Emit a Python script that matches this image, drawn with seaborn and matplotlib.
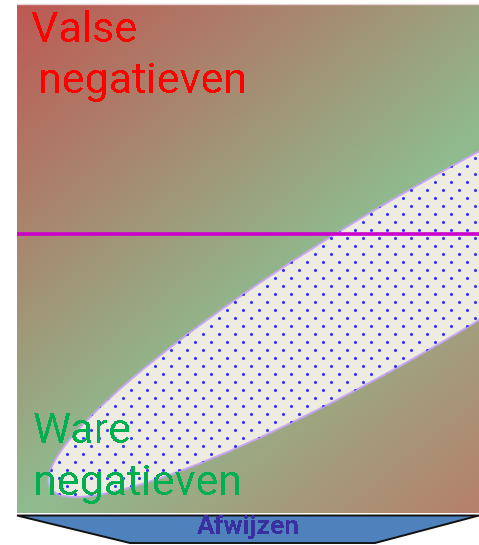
import numpy as np
import pandas as pd
import matplotlib
matplotlib.use("Agg")
import matplotlib.pyplot as plt
import seaborn as sns
from matplotlib.colors import LinearSegmentedColormap
from matplotlib.patches import Ellipse, Polygon

# --- content -------------------------------------------------------------
label_false_neg = ["Valse", "negatieven"]
label_true_neg = ["Ware", "negatieven"]
label_reject = "Afwijzen"

# plotting field (units = screen pixels, y pointing up)
field_width = 462
field_height = 509

# decision threshold (horizontal line)
threshold_level = 279

# population cloud: centre, full axes lengths and tilt
cloud_center = (400, 242)
cloud_axes = (852, 148)
cloud_angle = 30.6

# background gradient stops (position along the diagonal, colour)
grad_pos = [0.0, 0.58, 1.0]
grad_col = ["#BE5953", "#8FBC8F", "#B6806B"]

# --- figure --------------------------------------------------------------
sns.set_theme(style="white")
plt.rcParams["font.family"] = ["Roboto", "DejaVu Sans"]
plt.rcParams["text.antialiased"] = False

W, H = 479, 545
fig = plt.figure(figsize=(W / 100, H / 100), dpi=100, facecolor="white")

ax = fig.add_axes([17 / W, (H - 513) / H, 462 / W, 509 / H])


def tidy(a):
    a.set_xlim(0, field_width)
    a.set_ylim(0, field_height)
    a.set_axis_off()


tidy(ax)

# diagonal three-stop gradient (steeper towards the bottom edge)
cmap = LinearSegmentedColormap.from_list("bg", list(zip(grad_pos, grad_col)))
U, V = np.meshgrid(np.linspace(0, 1, 400), np.linspace(0, 1, 400))  # V from top
T = (0.75 * U + V) / 1.75
ax.imshow(T, cmap=cmap, extent=(0, field_width, 0, field_height), origin="upper",
          aspect="auto", interpolation="bilinear", vmin=0, vmax=1, zorder=0)

# population cloud
cloud = Ellipse(cloud_center, cloud_axes[0], cloud_axes[1], angle=cloud_angle,
                facecolor="#EEEBE1", edgecolor="#C9A6F2", linewidth=1.4, zorder=2)
ax.add_patch(cloud)

# dotted fill texture
xs, ys = [], []
for j, yy in enumerate(np.arange(field_height - 2, 0, -8)):
    off = 0 if j % 2 == 0 else 8
    for xx in np.arange(off + 2, field_width + 8, 16):
        xs.append(xx)
        ys.append(yy)
dots = pd.DataFrame({"x": xs, "y": ys})
sns.scatterplot(data=dots, x="x", y="y", ax=ax, s=5, color="#3535FF",
                linewidth=0, zorder=3, legend=False)
for coll in ax.collections:
    coll.set_clip_path(cloud)
tidy(ax)

# threshold line
thr = pd.DataFrame({"x": [0, field_width], "y": [threshold_level, threshold_level]})
sns.lineplot(data=thr, x="x", y="y", ax=ax, color="#CC00CC", linewidth=2.6,
             zorder=4, legend=False)
tidy(ax)

# labels
ax.text(14, 471, label_false_neg[0], color="#FF0000", fontsize=31, va="baseline", zorder=5)
ax.text(21, 420, label_false_neg[1], color="#FF0000", fontsize=31, va="baseline", zorder=5)
ax.text(16, 70, label_true_neg[0], color="#00B050", fontsize=31, va="baseline", zorder=5)
ax.text(16, 18, label_true_neg[1], color="#00B050", fontsize=31, va="baseline", zorder=5)

# light rule along the top edge
fig.add_artist(plt.Line2D([17 / W, 1], [1 - 3.5 / H, 1 - 3.5 / H], color="#E6D2D2",
                          linewidth=1.0))

# "reject" banner underneath
bx = fig.add_axes([17 / W, 0, 462 / W, (H - 514) / H])
bx.set_xlim(0, 462)
bx.set_ylim(0, 31)
bx.set_axis_off()
banner = Polygon([(0, 29.5), (462, 29.5), (358, 2), (113, 2)], closed=True,
                 facecolor="#4F81BD", edgecolor="#111111", linewidth=1.4,
                 clip_on=False)
bx.add_patch(banner)
bx.text(231, 18, label_reject, color="#3A2F9E", fontsize=19, fontweight="bold",
        ha="center", va="center")

fig.savefig("out.png", dpi=100, facecolor="white")
